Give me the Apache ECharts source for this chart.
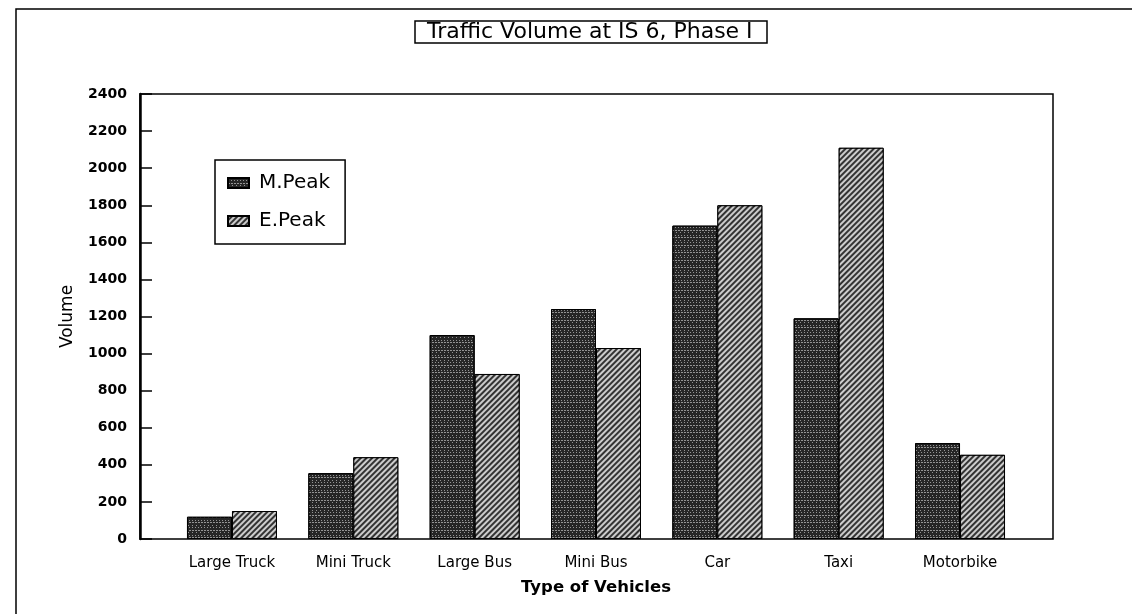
<!DOCTYPE html>
<html>
<head>
<meta charset="utf-8">
<script src="https://cdn.jsdelivr.net/npm/echarts@6/dist/echarts.min.js"></script>
<style>html,body{margin:0;padding:0;background:#fff}#c{width:1132px;height:614px}</style>
</head>
<body>
<div id="c"></div>
<script>
const categories = ['Large Truck', 'Mini Truck', 'Large Bus', 'Mini Bus', 'Car', 'Taxi', 'Motorbike'];
const mPeak = [120, 355, 1100, 1240, 1690, 1190, 517];
const ePeak = [151, 441, 890, 1030, 1800, 2110, 454];
const yTicks = { min: 0, max: 2400, interval: 200 };

const chart = echarts.init(document.getElementById('c'), null, { renderer: 'canvas' });
const font = 'DejaVu Sans';
chart.setOption({
  backgroundColor: '#fff',
  animation: false,
  title: {
    text: 'Traffic Volume at IS 6, Phase I',
    left: 415, top: 22,
    padding: [0, 15, 0, 12],
    borderColor: '#000', borderWidth: 1.5,
    textStyle: { fontFamily: font, fontSize: 22, fontWeight: 'normal', color: '#000', lineHeight: 20 }
  },
  legend: {
    orient: 'vertical',
    left: 215, top: 160,
    padding: [13, 15, 13, 12],
    itemGap: 18,
    itemWidth: 21, itemHeight: 10,
    borderColor: '#000', borderWidth: 1.5,
    backgroundColor: '#fff',
    textStyle: { fontFamily: font, fontSize: 20, color: '#000', padding: [0, 0, 0, 5], lineHeight: 19 },
    data: [{ name: 'M.Peak', icon: 'rect' }, { name: 'E.Peak', icon: 'rect' }]
  },
  graphic: [{
    type: 'polyline', silent: true,
    shape: { points: [[16, 614], [16, 9], [1132, 9]] },
    style: { stroke: '#000', lineWidth: 1.5, fill: null }
  }],
  grid: [
    { left: 140, top: 94, width: 913, height: 445, show: true, borderColor: '#000', borderWidth: 1.5, backgroundColor: 'transparent' },
    { left: 171.3, top: 94, width: 849.4, height: 445 }
  ],
  xAxis: [
    { type: 'value', gridIndex: 0, show: false, min: 0, max: 1 },
    {
      type: 'category', gridIndex: 1, data: categories,
      axisLine: { show: false }, axisTick: { show: false },
      axisLabel: { fontFamily: font, fontSize: 15, color: '#000', margin: 17 },
      name: 'Type of Vehicles', nameLocation: 'middle', nameGap: 40,
      nameTextStyle: { fontFamily: font, fontSize: 16.5, fontWeight: 'bold', color: '#000' }
    }
  ],
  yAxis: [
    {
      type: 'value', gridIndex: 0, min: yTicks.min, max: yTicks.max, interval: yTicks.interval,
      axisLine: { show: true, lineStyle: { color: '#000', width: 2.5 } },
      axisTick: { show: true, inside: true, length: 12, lineStyle: { color: '#000', width: 1.5 } },
      axisLabel: { fontFamily: font, fontSize: 14, fontWeight: 'bold', color: '#000', margin: 13, formatter: v => String(v) },
      splitLine: { show: false },
      name: 'Volume', nameLocation: 'middle', nameGap: 64, nameRotate: 90,
      nameTextStyle: { fontFamily: font, fontSize: 17, color: '#000' }
    },
    { type: 'value', gridIndex: 1, min: yTicks.min, max: yTicks.max, show: false }
  ],
  series: [
    {
      name: 'M.Peak', type: 'bar', xAxisIndex: 1, yAxisIndex: 1, data: mPeak,
      barWidth: 45, barGap: '0%',
      itemStyle: {
        color: '#262626', borderColor: '#000', borderWidth: 1,
        decal: { symbol: 'rect', symbolSize: 1, dashArrayX: [[1, 2], [2, 1], [1, 3]], dashArrayY: [1, 1, 1, 2], color: 'rgba(255,255,255,0.5)' }
      }
    },
    {
      name: 'E.Peak', type: 'bar', xAxisIndex: 1, yAxisIndex: 1, data: ePeak,
      barWidth: 45, barGap: '0%',
      itemStyle: {
        color: '#333333', borderColor: '#000', borderWidth: 1,
        decal: { symbol: 'rect', symbolSize: 1, dashArrayX: [1, 0], dashArrayY: [2, 2], rotation: -Math.PI / 4, color: 'rgba(255,255,255,0.75)' }
      }
    }
  ]
});
</script>
</body>
</html>
